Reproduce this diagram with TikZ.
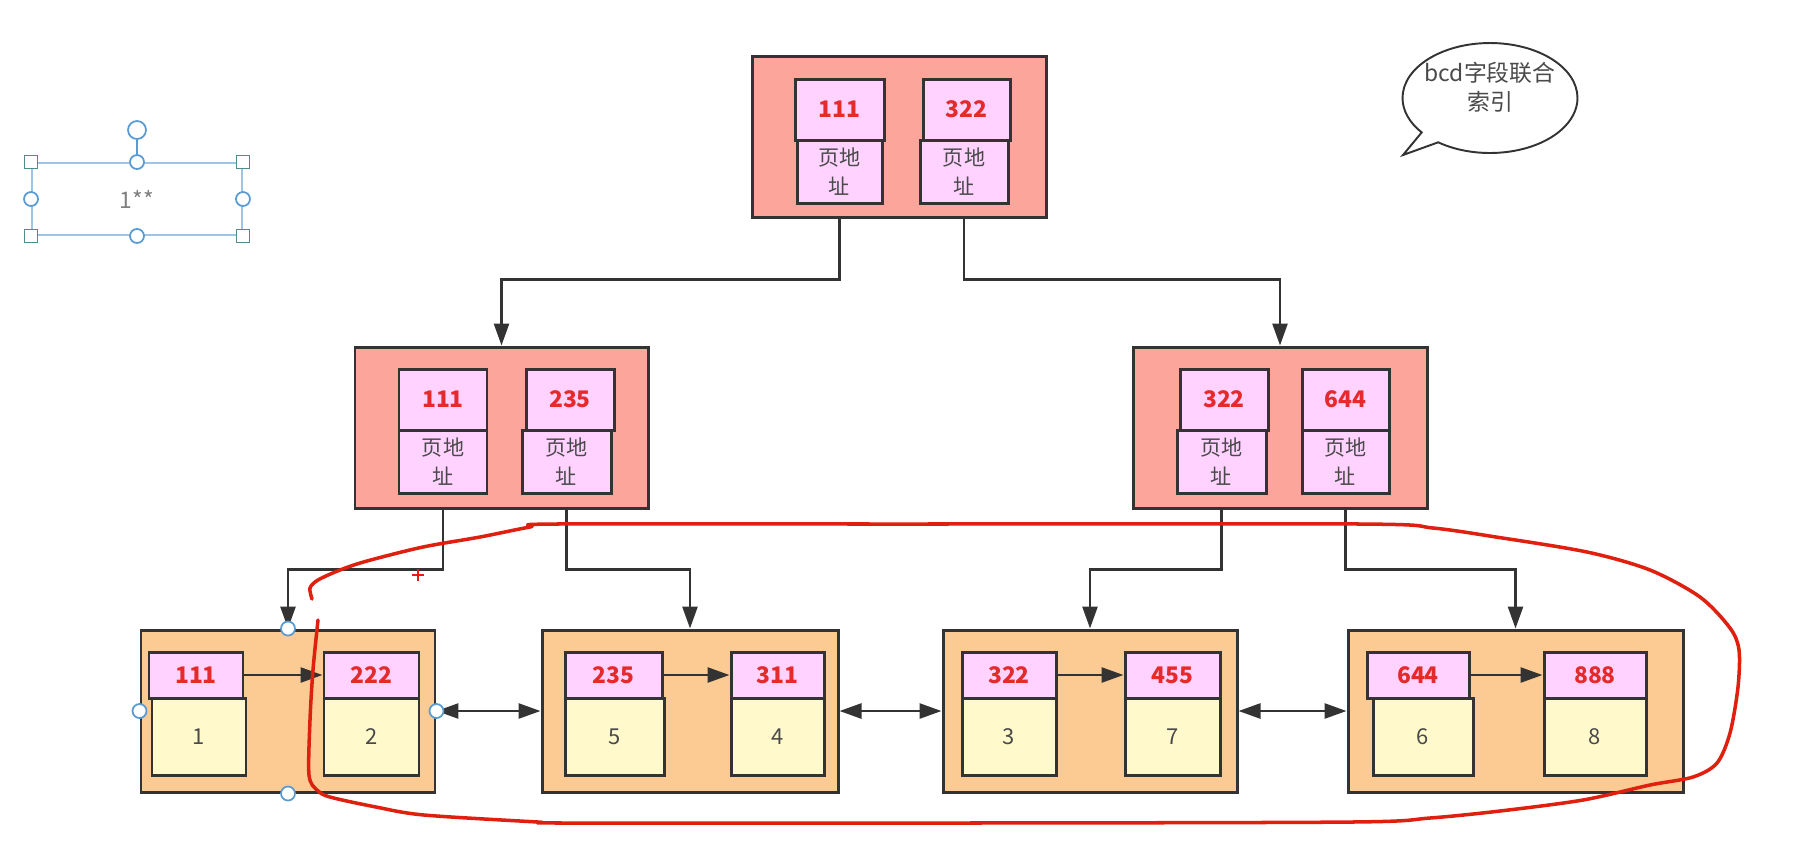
\documentclass[tikz,border=0pt]{standalone}
\usepackage{fontspec}
\setmainfont{Noto Sans CJK SC}
\usetikzlibrary{arrows.meta}
\usetikzlibrary{shapes.callouts}

\definecolor{pagered}{HTML}{FCA69B}
\definecolor{keypink}{HTML}{FFD2FF}
\definecolor{leaforange}{HTML}{FCCB93}
\definecolor{rowyellow}{HTML}{FFF9CC}
\definecolor{numred}{HTML}{E42A2A}
\definecolor{inkred}{HTML}{E0200F}
\definecolor{selblue}{HTML}{9CC5E8}
\definecolor{handleblue}{HTML}{5A9BD3}
\definecolor{handlegreen}{HTML}{4F8C8C}
\definecolor{linegray}{HTML}{333333}
\definecolor{textgray}{HTML}{4A4A4A}

\begin{document}
\begin{tikzpicture}[x=0.02cm, y=-0.02cm,
  wh/.style args={#1/#2}{minimum width=#1*0.02cm, minimum height=#2*0.02cm},
  frame/.style={draw=linegray, line width=1.7pt, inner sep=0pt},
  page/.style={frame, fill=pagered},
  key/.style={frame, fill=keypink, text=numred, font=\fontsize{13}{15}\selectfont\bfseries},
  addr/.style={frame, fill=keypink, text=textgray, align=center, font=\fontsize{12}{16.5}\selectfont},
  leaf/.style={frame, fill=leaforange},
  val/.style={frame, fill=rowyellow, text=textgray, font=\fontsize{12.5}{14}\selectfont},
  link/.style={draw=linegray, line width=1.5pt, -{Triangle[length=0.44cm, width=0.3cm]}},
  twoway/.style={link, {Triangle[length=0.44cm, width=0.3cm]}-{Triangle[length=0.44cm, width=0.3cm]}},
  handle/.style={circle, draw=handleblue, fill=white, line width=1pt, minimum size=0.28cm, inner sep=0pt},
  corner/.style={rectangle, draw=handlegreen, fill=white, line width=1pt, minimum size=0.26cm, inner sep=0pt}]
\fill[white] (0,0) rectangle (1805,850);
\useasboundingbox (0,0) rectangle (1805,850);

\node[page, wh=294/161] (root) at (899,136.5) {};
\node[addr, wh=85/63] (ra1) at (839.5,171.5) {页地\\址};
\node[key, wh=89/61] (rk1) at (839.5,109.5) {111};
\node[addr, wh=88/63] (ra2) at (964,171.5) {页地\\址};
\node[key, wh=87/61] (rk2) at (966.5,109.5) {322};

\node[page, wh=293/161] (ml) at (501.5,427.5) {};
\node[addr, wh=88/63] (mla1) at (443,461.5) {页地\\址};
\node[key, wh=88/61] (mlk1) at (443,399.5) {111};
\node[addr, wh=89/63] (mla2) at (566.5,461.5) {页地\\址};
\node[key, wh=88/61] (mlk2) at (570,399.5) {235};

\node[page, wh=294/161] (mr) at (1280,427.5) {};
\node[addr, wh=89/63] (mra1) at (1221.5,461.5) {页地\\址};
\node[key, wh=88/61] (mrk1) at (1224,399.5) {322};
\node[addr, wh=87/63] (mra2) at (1345.5,461.5) {页地\\址};
\node[key, wh=87/61] (mrk2) at (1345.5,399.5) {644};

\node[leaf, wh=294/162] (l1) at (288,711) {};
\node[val, wh=94/77] (l1v1) at (199,736.5) {1};
\node[key, wh=94/46] (l1k1) at (196,675) {111};
\node[val, wh=95/77] (l1v2) at (371.5,736.5) {2};
\node[key, wh=95/46] (l1k2) at (371.5,675) {222};

\node[leaf, wh=296/162] (l2) at (690,711) {};
\node[val, wh=99/77] (l2v1) at (614.5,736.5) {5};
\node[key, wh=97/46] (l2k1) at (613.5,675) {235};
\node[val, wh=93/77] (l2v2) at (777.5,736.5) {4};
\node[key, wh=93/46] (l2k2) at (777.5,675) {311};

\node[leaf, wh=294/162] (l3) at (1090,711) {};
\node[val, wh=94/77] (l3v1) at (1009,736.5) {3};
\node[key, wh=94/46] (l3k1) at (1009,675) {322};
\node[val, wh=95/77] (l3v2) at (1172.5,736.5) {7};
\node[key, wh=95/46] (l3k2) at (1172.5,675) {455};

\node[leaf, wh=335/162] (l4) at (1515.5,711) {};
\node[val, wh=100/77] (l4v1) at (1423,736.5) {6};
\node[key, wh=102/46] (l4k1) at (1418,675) {644};
\node[val, wh=102/77] (l4v2) at (1595,736.5) {8};
\node[key, wh=102/46] (l4k2) at (1595,675) {888};

\draw[link] (ra1.south |- root.south) -- ++(0,61) -| (ml.north);
\draw[link] (ra2.south |- root.south) -- ++(0,61) -| (mr.north);
\draw[link] (mla1.south |- ml.south) -- ++(0,60) -| (l1.north);
\draw[link] (mla2.south |- ml.south) -- ++(0,60) -| (l2.north);
\draw[link] (mra1.south |- mr.south) -- ++(0,60) -| (l3.north);
\draw[link] (mra2.south |- mr.south) -- ++(0,60) -| (l4.north);

\foreach \n in {l1,l2,l3,l4}
  \draw[link] (\n k1.east) -- (\n k2.west);
\draw[twoway] (l1.east) -- (l2.west);
\draw[twoway] (l2.east) -- (l3.west);
\draw[twoway] (l3.east) -- (l4.west);

\node[draw=selblue, line width=1.1pt, inner sep=0pt, wh=210/72,
  text=gray, font=\fontsize{13}{15}\selectfont] (sel) at (137,199) {1**};
\node[handle, minimum size=0.36cm] (rot) at (137,130) {};
\draw[handleblue, line width=1.1pt] (rot.south) -- (sel.north);
\foreach \a [count=\i] in {north west,north east,south west,south east}
  \node[corner] (sc\i) at (sel.\a) {};
\foreach \a [count=\i] in {north,south,west,east}
  \node[handle] (sh\i) at (sel.\a) {};
\foreach \a [count=\i] in {north,south,west,east}
  \node[handle] (lh\i) at (l1.\a) {};

\node[ellipse callout, draw=linegray, line width=1.1pt, fill=white, inner sep=0pt,
  minimum width=3.5cm, minimum height=2.2cm, callout absolute pointer={(1403,155)}] (bubble) at (1490,98) {};
\node[align=center, text=textgray, font=\fontsize{13}{16.5}\selectfont] (note) at (1490,87)
  {bcd字段联合\\索引};

\draw[inkred, line width=2pt, line cap=round, line join=round] plot[smooth, tension=0.5] coordinates {
  (312,599) (310,588) (318,580) (340,570) (367,561) (423,547) (480,537) (530,527)
  (556,524) (900,524) (1360,524) (1433,528) (1496,537) (1587,552) (1650,570)
  (1700,597) (1730,628) (1739,650) (1738,687) (1730,733) (1717,763) (1693,777)
  (1650,785) (1583,800) (1500,811) (1430,818) (1352,822) (960,823) (567,823) (538,822)
  (424,815) (376,807) (330,797) (317,790) (309,775) (310,720) (313,670) (318,620)};
\draw[inkred, line width=1pt] (412,575) -- (424,575) (418,569) -- (418,581);
\end{tikzpicture}
\end{document}
